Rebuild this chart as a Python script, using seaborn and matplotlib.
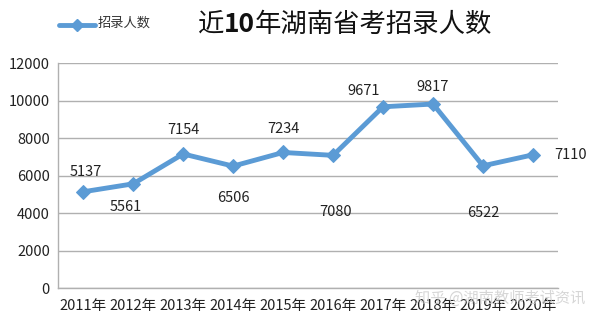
import matplotlib
matplotlib.use("Agg")
import matplotlib.pyplot as plt
import seaborn as sns
import pandas as pd

years = ["2011年", "2012年", "2013年", "2014年", "2015年", "2016年", "2017年", "2018年", "2019年", "2020年"]
values = [5137, 5561, 7154, 6506, 7234, 7080, 9671, 9817, 6522, 7110]
yticks = [0, 2000, 4000, 6000, 8000, 10000, 12000]
series_name = "招录人数"
title_parts = [("近", "normal"), ("10", "bold"), ("年湖南省考招录人数", "normal")]

sns.set_theme(style="white")
plt.rcParams['font.family'] = ['Noto Sans CJK SC', 'DejaVu Sans']

df = pd.DataFrame({"year": years, "value": values})
color = "#5B9BD5"

fig = plt.figure(figsize=(6, 3.27), dpi=100)
ax = fig.add_axes([0.097, 0.119, 0.833, 0.688])
sns.lineplot(data=df, x="year", y="value", ax=ax, color=color, linewidth=3.5,
             marker="D", markersize=7, markeredgecolor=color, sort=False,
             label=series_name, legend=False)

ax.set_ylim(0, 12000)
ax.set_yticks(yticks)
ax.set_xlim(-0.5, len(years) - 0.5)
ax.yaxis.grid(True, color="#b0b0b0", linewidth=1)
ax.set_axisbelow(True)
ax.set_xlabel("")
ax.set_ylabel("")
for s in ["top", "right"]:
    ax.spines[s].set_visible(False)
for s in ["left", "bottom"]:
    ax.spines[s].set_color("#b0b0b0")
    ax.spines[s].set_linewidth(1)
ax.tick_params(axis="both", length=0, labelsize=10.5, colors="#222222", pad=6)
ax.tick_params(axis="x", pad=8)

# label offsets in points (dx, dy)
offsets = [(2, 14), (-5, -17), (0, 17), (0, -23), (0, 17), (2, -41), (-14, 11), (0, 12), (0, -34), (27, 0)]
for i, (v, (dx, dy)) in enumerate(zip(values, offsets)):
    ax.annotate(f"{v}", (i, v), xytext=(dx, dy), textcoords="offset points",
                ha="center", va="center", fontsize=10.5, color="#222222")

# title with bold "10"
fig.canvas.draw()
renderer = fig.canvas.get_renderer()
texts = []
for s, w in title_parts:
    t = fig.text(0, 0.925, s, ha="left", va="center", fontsize=19, fontweight=w, color="#111111")
    texts.append(t)
widths = [t.get_window_extent(renderer).width / fig.bbox.width for t in texts]
x = 0.575 - sum(widths) / 2
for t, w in zip(texts, widths):
    t.set_x(x)
    x += w

# legend
leg_line = plt.Line2D([0.098, 0.158], [0.925, 0.925], transform=fig.transFigure,
                      color=color, linewidth=3.5)
leg_mark = plt.Line2D([0.128], [0.925], transform=fig.transFigure, color=color,
                      marker="D", markersize=6, linestyle="none")
fig.add_artist(leg_line)
fig.add_artist(leg_mark)
fig.text(0.163, 0.928, series_name, ha="left", va="center", fontsize=9.5, color="#333333")

# watermark
fig.text(0.975, 0.088, "知乎 @湖南教师考试资讯", ha="right", va="center", fontsize=11,
         color="#cccccc", alpha=0.8)

fig.savefig("out.png", dpi=100)
